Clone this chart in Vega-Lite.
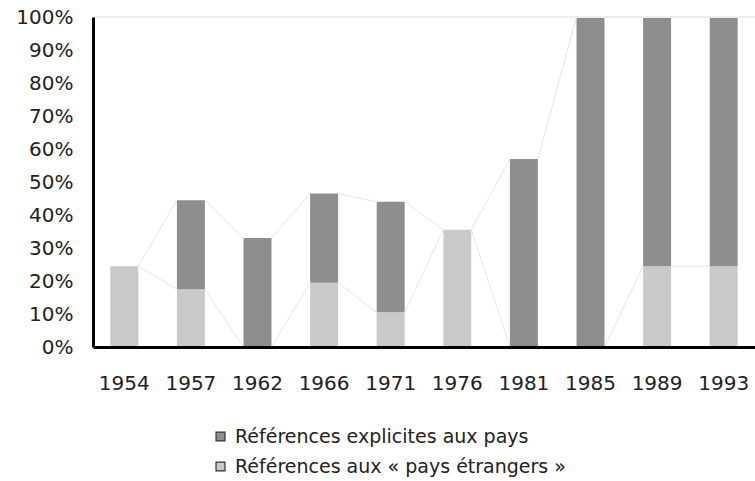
{
  "$schema": "https://vega.github.io/schema/vega-lite/v6.json",
  "width": 662,
  "height": 330,
  "autosize": {"type": "none"},
  "padding": {"left": 93, "top": 17, "right": 0, "bottom": 134},
  "background": "white",
  "config": {
    "view": {"stroke": null},
    "font": "DejaVu Sans",
    "axisY": {"labelOverlap": false, "tickCount": 12, "labelFontSize": 20, "labelColor": "#222222", "labelPadding": 20, "ticks": false, "grid": false, "domainColor": "#000000", "domainWidth": 3, "title": null},
    "axisX": {"ticks": false, "grid": false, "domainColor": "#000000", "domainWidth": 3, "labelFontSize": 20, "labelColor": "#222222", "title": null}
  },
  "data": {
    "values": [
      {"year": 1954, "series": "Références aux « pays étrangers »", "value": 0.245},
      {"year": 1954, "series": "Références explicites aux pays", "value": 0},
      {"year": 1957, "series": "Références aux « pays étrangers »", "value": 0.175},
      {"year": 1957, "series": "Références explicites aux pays", "value": 0.27},
      {"year": 1962, "series": "Références aux « pays étrangers »", "value": 0},
      {"year": 1962, "series": "Références explicites aux pays", "value": 0.33},
      {"year": 1966, "series": "Références aux « pays étrangers »", "value": 0.195},
      {"year": 1966, "series": "Références explicites aux pays", "value": 0.27},
      {"year": 1971, "series": "Références aux « pays étrangers »", "value": 0.105},
      {"year": 1971, "series": "Références explicites aux pays", "value": 0.335},
      {"year": 1976, "series": "Références aux « pays étrangers »", "value": 0.355},
      {"year": 1976, "series": "Références explicites aux pays", "value": 0},
      {"year": 1981, "series": "Références aux « pays étrangers »", "value": 0},
      {"year": 1981, "series": "Références explicites aux pays", "value": 0.57},
      {"year": 1985, "series": "Références aux « pays étrangers »", "value": 0},
      {"year": 1985, "series": "Références explicites aux pays", "value": 1.0},
      {"year": 1989, "series": "Références aux « pays étrangers »", "value": 0.245},
      {"year": 1989, "series": "Références explicites aux pays", "value": 0.755},
      {"year": 1993, "series": "Références aux « pays étrangers »", "value": 0.245},
      {"year": 1993, "series": "Références explicites aux pays", "value": 0.755}
    ]
  },
  "transform": [
    {"stack": "value", "groupby": ["year"], "sort": [{"field": "series", "order": "ascending"}], "as": ["v0", "v1"]}
  ],
  "layer": [
    {
      "mark": {"type": "bar"},
      "encoding": {
        "x": {
          "field": "year", "type": "ordinal",
          "scale": {"paddingInner": 0.58, "paddingOuter": 0.26},
          "axis": {
            "title": null, "labelAngle": 0, "ticks": false, "bandPosition": 0.5,
            "labelAlign": "center", "labelBaseline": "top",
            "labelPadding": 26, "zindex": 1
          }
        },
        "y": {
          "field": "v0", "type": "quantitative",
          "scale": {"domain": [0, 1], "nice": false},
          "axis": {
            "title": null, "format": ".0%", "values": [0, 0.1, 0.2, 0.3, 0.4, 0.5, 0.6, 0.7, 0.8, 0.9, 1],
            "tickCount": 12, "labelOverlap": false, "zindex": 1
          }
        },
        "y2": {"field": "v1"},
        "color": {
          "field": "series", "type": "nominal",
          "scale": {
            "domain": ["Références explicites aux pays", "Références aux « pays étrangers »"],
            "range": ["#8e8e8e", "#c9c9c9"]
          },
          "legend": {
            "title": null, "orient": "none", "legendX": 118, "legendY": 410,
            "symbolType": "square", "symbolSize": 80,
            "symbolStrokeColor": "#333333", "symbolStrokeWidth": 1.2,
            "symbolOpacity": 1,
            "labelFontSize": 19, "labelColor": "#222222", "labelLimit": 500,
            "rowPadding": 10, "labelOffset": 5
          }
        }
      }
    },
    {
      "mark": {"type": "rule", "color": "#eeeeee", "strokeWidth": 1},
      "encoding": {"y": {"datum": 1, "type": "quantitative"}}
    },
    {
      "transform": [
        {"window": [{"op": "lead", "field": "v1", "as": "nv1"}, {"op": "lead", "field": "year", "as": "nyear"}], "groupby": ["series"], "sort": [{"field": "year", "order": "ascending"}]},
        {"filter": "datum.nyear != null"}
      ],
      "mark": {"type": "rule", "color": "#e6e6e6", "strokeWidth": 1},
      "encoding": {
        "x": {"field": "year", "type": "ordinal", "bandPosition": 1},
        "x2": {"field": "nyear", "bandPosition": 0},
        "y": {"field": "v1", "type": "quantitative"},
        "y2": {"field": "nv1"}
      }
    }
  ]
}
